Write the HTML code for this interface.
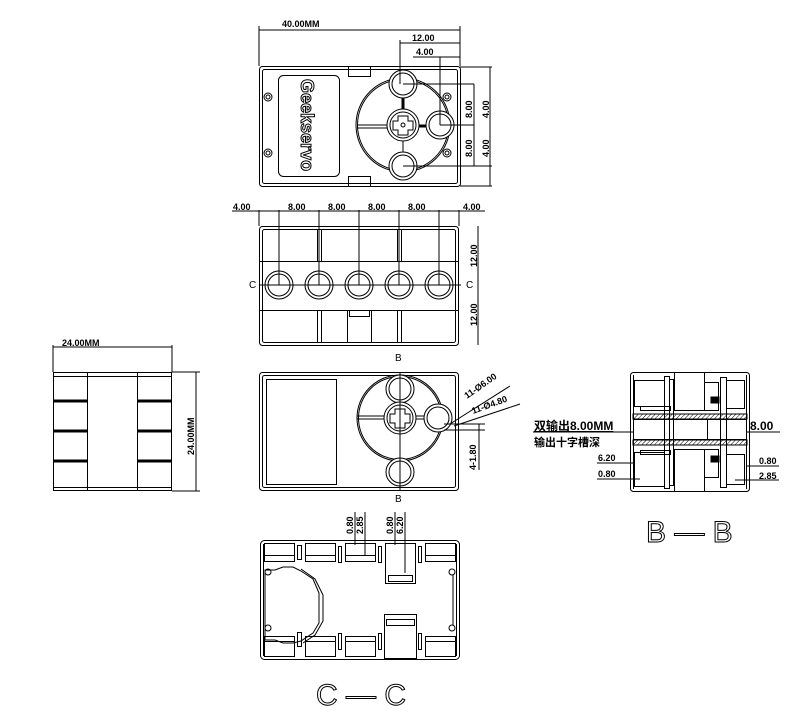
<!DOCTYPE html>
<html><head><meta charset="utf-8"><style>
html,body{margin:0;padding:0;background:#fff;width:797px;height:713px;overflow:hidden}
svg{display:block}
text{font-family:"Liberation Sans","Noto Sans CJK SC",sans-serif;fill:#000}
</style></head><body>
<svg width="797" height="713" viewBox="0 0 797 713" xmlns="http://www.w3.org/2000/svg">
<defs>
<pattern id="h" width="3" height="3" patternUnits="userSpaceOnUse" patternTransform="rotate(45)"><line x1="0" y1="0" x2="0" y2="3" stroke="#000" stroke-width="1"/></pattern>
</defs>
<g fill="none" stroke="#000" stroke-width="1">
<!-- TOP VIEW -->
<rect x="259.5" y="66.5" width="201" height="120" rx="3"/>
<rect x="262.5" y="69.5" width="195" height="114" rx="2"/>
<rect x="278.5" y="75.5" width="61" height="101" rx="5"/>
<rect x="348.5" y="66.5" width="22" height="10"/><rect x="348.5" y="176.5" width="22" height="10"/>
<circle cx="268" cy="97" r="4"/><circle cx="268" cy="97" r="2"/>
<circle cx="268" cy="153" r="4"/><circle cx="268" cy="153" r="2"/>
<circle cx="447" cy="97" r="4"/><circle cx="447" cy="97" r="2"/>
<circle cx="447" cy="153" r="4"/><circle cx="447" cy="153" r="2"/>
<circle cx="403" cy="125" r="47"/><circle cx="403" cy="125" r="45.5"/>
<circle cx="403" cy="84" r="14" fill="#fff"/><circle cx="403" cy="84" r="11"/>
<circle cx="403" cy="166" r="14" fill="#fff"/><circle cx="403" cy="166" r="11"/>
<circle cx="440" cy="125" r="14" fill="#fff"/><circle cx="440" cy="125" r="11"/>
<circle cx="403" cy="125" r="16" fill="#fff"/><circle cx="403" cy="125" r="13"/>
<path d="M398 116h10v5h5v9h-5v5h-10v-5h-5v-9h5z"/>
<circle cx="403" cy="125" r="2"/>
<line x1="357" y1="125" x2="387" y2="125"/><line x1="357" y1="128" x2="387" y2="128"/>
<line x1="419" y1="126" x2="426" y2="126" stroke-width="3"/>
<line x1="403" y1="98" x2="403" y2="109" stroke-width="3"/><line x1="403" y1="141" x2="403" y2="152"/>
<!-- top dims -->
<line x1="259" y1="30" x2="460" y2="30"/><line x1="259" y1="26" x2="259" y2="66"/><line x1="460" y1="26" x2="460" y2="66"/>
<line x1="400" y1="43" x2="460" y2="43"/><line x1="400" y1="40" x2="400" y2="84"/>
<line x1="413" y1="57" x2="460" y2="57"/><line x1="440" y1="57" x2="440" y2="125"/>
<line x1="403" y1="84" x2="474" y2="84"/><line x1="440" y1="125" x2="474" y2="125"/><line x1="403" y1="166" x2="492" y2="166"/>
<line x1="460" y1="67" x2="492" y2="67"/><line x1="460" y1="186" x2="492" y2="186"/>
<line x1="490" y1="67" x2="490" y2="186"/><line x1="474" y1="84" x2="474" y2="166"/>
<!-- SIDE VIEW -->
<rect x="259.5" y="226.5" width="199" height="119" rx="3"/>
<rect x="262.5" y="229.5" width="193" height="113" rx="2"/>
<line x1="259" y1="261.5" x2="459" y2="261.5"/><line x1="259" y1="310.5" x2="459" y2="310.5"/>
<line x1="317.5" y1="229" x2="317.5" y2="261"/><line x1="321.5" y1="229" x2="321.5" y2="261"/>
<line x1="397.5" y1="229" x2="397.5" y2="261"/><line x1="401.5" y1="229" x2="401.5" y2="261"/>
<line x1="317.5" y1="310" x2="317.5" y2="343"/><line x1="321.5" y1="310" x2="321.5" y2="343"/>
<line x1="397.5" y1="310" x2="397.5" y2="343"/><line x1="401.5" y1="310" x2="401.5" y2="343"/>
<rect x="347.5" y="310.5" width="24" height="32"/><rect x="349.5" y="310.5" width="20" height="6"/>
<line x1="259" y1="285" x2="461" y2="285"/>
<circle cx="279" cy="285" r="14"/><circle cx="279" cy="285" r="11"/>
<circle cx="319" cy="285" r="14"/><circle cx="319" cy="285" r="11"/>
<circle cx="359" cy="285" r="14"/><circle cx="359" cy="285" r="11"/>
<circle cx="399" cy="285" r="14"/><circle cx="399" cy="285" r="11"/>
<circle cx="439" cy="285" r="14"/><circle cx="439" cy="285" r="11"/>
<line x1="279" y1="210" x2="279" y2="285"/><line x1="319" y1="210" x2="319" y2="285"/><line x1="359" y1="210" x2="359" y2="285"/><line x1="399" y1="210" x2="399" y2="285"/><line x1="439" y1="210" x2="439" y2="285"/>
<line x1="259" y1="210" x2="259" y2="226"/><line x1="459" y1="210" x2="459" y2="226"/>
<line x1="232" y1="211" x2="485" y2="211"/>
<line x1="478" y1="226" x2="478" y2="345"/>
<!-- FRONT VIEW -->
<rect x="259.5" y="372.5" width="199" height="118" rx="3"/>
<rect x="262.5" y="375.5" width="193" height="112" rx="2"/>
<rect x="266.5" y="379.5" width="70" height="105"/>
<circle cx="400" cy="418" r="43"/><circle cx="400" cy="418" r="41.5"/>
<circle cx="400" cy="389" r="14" fill="#fff"/><circle cx="400" cy="389" r="11"/>
<circle cx="400" cy="472" r="14" fill="#fff"/><circle cx="400" cy="472" r="11"/>
<circle cx="438" cy="418" r="14" fill="#fff"/><circle cx="438" cy="418" r="11"/>
<circle cx="400" cy="418" r="16" fill="#fff"/><circle cx="400" cy="418" r="13"/>
<path d="M395 409h10v5h5v9h-5v5h-10v-5h-5v-9h5z"/>
<line x1="400" y1="372" x2="400" y2="490"/>
<line x1="357" y1="416" x2="384" y2="416"/><line x1="357" y1="419" x2="384" y2="419"/>
<line x1="416" y1="416" x2="424" y2="416"/><line x1="416" y1="419" x2="424" y2="419"/>
<line x1="450" y1="424" x2="510" y2="386"/><line x1="454" y1="426" x2="520" y2="404"/>
<line x1="444" y1="424" x2="485" y2="424"/><line x1="444" y1="430" x2="485" y2="430"/><line x1="479" y1="424" x2="479" y2="470"/>
<!-- LEFT VIEW -->
<rect x="53.5" y="372.5" width="118" height="118"/>
<line x1="87.5" y1="372" x2="87.5" y2="491"/><line x1="137.5" y1="372" x2="137.5" y2="491"/>
<line x1="53" y1="376.5" x2="172" y2="376.5"/><line x1="53" y1="487.5" x2="172" y2="487.5"/>
<line x1="53" y1="401" x2="87" y2="401" stroke-width="3"/><line x1="138" y1="401" x2="172" y2="401" stroke-width="3"/>
<line x1="53" y1="431" x2="87" y2="431" stroke-width="3"/><line x1="138" y1="431" x2="172" y2="431" stroke-width="3"/>
<line x1="53" y1="461" x2="87" y2="461" stroke-width="3"/><line x1="138" y1="461" x2="172" y2="461" stroke-width="3"/>
<line x1="53" y1="347" x2="172" y2="347"/><line x1="53" y1="345" x2="53" y2="372"/><line x1="172" y1="345" x2="172" y2="372"/>
<line x1="172" y1="372" x2="200" y2="372"/><line x1="172" y1="491" x2="200" y2="491"/><line x1="196" y1="372" x2="196" y2="491"/>
<!-- B-B -->
<rect x="630.5" y="372.5" width="119" height="119" rx="3"/>
<line x1="633.5" y1="375" x2="633.5" y2="489"/><line x1="746.5" y1="375" x2="746.5" y2="489"/>
<rect x="634.5" y="380.5" width="30" height="26"/><rect x="634.5" y="452.5" width="30" height="34"/>
<rect x="664.5" y="376.5" width="5" height="112"/><rect x="669.5" y="379.5" width="4" height="106"/>
<rect x="674.5" y="372.5" width="30" height="38"/><rect x="674.5" y="449.5" width="30" height="42"/>
<rect x="704.5" y="382.5" width="14" height="28"/><rect x="704.5" y="449.5" width="14" height="28"/>
<rect x="720.5" y="377.5" width="6" height="110"/><rect x="726.5" y="380.5" width="18" height="28"/><rect x="726.5" y="454.5" width="18" height="30"/>
<rect x="640.5" y="406.5" width="30" height="4"/><rect x="640.5" y="450.5" width="30" height="4"/>
<rect x="633" y="414" width="114" height="5" fill="url(#h)"/><rect x="633" y="440" width="114" height="5" fill="url(#h)"/>
<line x1="633" y1="419.5" x2="747" y2="419.5"/><line x1="633" y1="439.5" x2="747" y2="439.5"/>
<line x1="673.5" y1="419" x2="673.5" y2="440"/><line x1="707.5" y1="419" x2="707.5" y2="440"/>
<rect x="711" y="397" width="8" height="6" fill="#000"/><rect x="711" y="456" width="8" height="6" fill="#000"/>
<line x1="533" y1="432" x2="633" y2="432"/><line x1="747" y1="432" x2="780" y2="432"/>
<line x1="597" y1="463" x2="633" y2="463"/><line x1="597" y1="479" x2="640" y2="479"/>
<line x1="747" y1="466" x2="779" y2="466"/><line x1="735" y1="480" x2="779" y2="480"/>
<!-- C-C -->
<rect x="260.5" y="540.5" width="199" height="119" rx="4"/>
<line x1="263.5" y1="544" x2="263.5" y2="656"/><line x1="456.5" y1="544" x2="456.5" y2="656"/>
<rect x="264.5" y="543.5" width="30" height="12"/><rect x="264.5" y="555.5" width="30" height="6"/>
<rect x="305.5" y="543.5" width="30" height="12"/><rect x="305.5" y="555.5" width="30" height="6"/>
<rect x="345.5" y="543.5" width="30" height="12"/><rect x="345.5" y="555.5" width="30" height="6"/>
<rect x="385.5" y="543.5" width="30" height="40"/><rect x="388.5" y="575.5" width="24" height="6"/>
<rect x="425.5" y="543.5" width="30" height="12"/><rect x="425.5" y="555.5" width="30" height="6"/>
<rect x="264.5" y="636.5" width="30" height="20"/><rect x="264.5" y="636.5" width="30" height="5"/>
<rect x="305.5" y="636.5" width="30" height="20"/><rect x="305.5" y="636.5" width="30" height="5"/>
<rect x="345.5" y="636.5" width="30" height="20"/><rect x="345.5" y="636.5" width="30" height="5"/>
<rect x="384.5" y="614.5" width="32" height="44"/><rect x="386.5" y="619.5" width="28" height="6"/>
<rect x="425.5" y="636.5" width="30" height="20"/><rect x="425.5" y="636.5" width="30" height="5"/>
<rect x="297.5" y="545.5" width="4" height="14"/><rect x="297.5" y="632.5" width="4" height="14"/>
<rect x="338.5" y="546.5" width="3" height="16"/><rect x="338.5" y="633.5" width="3" height="16"/>
<rect x="378.5" y="546.5" width="3" height="16"/><rect x="378.5" y="633.5" width="3" height="16"/>
<rect x="418.5" y="546.5" width="3" height="16"/><rect x="418.5" y="633.5" width="3" height="16"/>
<path d="M265 570h10l8-3h10l8 4 12 8 6 14v30l-6 10-12 8-8 2h-10l-8-3h-10z"/>
<path d="M301 569l14 10 8 16v26l-8 14-12 8"/>
<circle cx="268" cy="572" r="3"/><circle cx="268" cy="628" r="3"/><circle cx="452" cy="572" r="3"/><circle cx="452" cy="628" r="3"/>
<line x1="453" y1="575" x2="453" y2="625"/>
<line x1="355" y1="512" x2="355" y2="545"/><line x1="365" y1="512" x2="365" y2="555"/>
<line x1="395" y1="512" x2="395" y2="545"/><line x1="405" y1="512" x2="405" y2="573"/>
</g>
<!-- labels -->
<g font-size="9" font-weight="bold">
<text x="282" y="27">40.00MM</text>
<text x="412" y="41">12.00</text>
<text x="416" y="55">4.00</text>
<text transform="translate(472,118) rotate(-90)">8.00</text>
<text transform="translate(489,118) rotate(-90)">4.00</text>
<text transform="translate(472,157) rotate(-90)">8.00</text>
<text transform="translate(489,157) rotate(-90)">4.00</text>
<text x="233" y="210">4.00</text><text x="288" y="210">8.00</text><text x="328" y="210">8.00</text><text x="368" y="210">8.00</text><text x="408" y="210">8.00</text><text x="463" y="210">4.00</text>
<text transform="translate(477,267) rotate(-90)">12.00</text>
<text transform="translate(477,326) rotate(-90)">12.00</text>
<text transform="translate(476,470) rotate(-90)">4-1.80</text>
<text transform="translate(467,399) rotate(-35)">11-Ø6.00</text>
<text transform="translate(473,414) rotate(-20)">11-Ø4.80</text>
<text x="62" y="346">24.00MM</text>
<text transform="translate(194,455) rotate(-90)">24.00MM</text>
<text x="598" y="461">6.20</text><text x="598" y="477">0.80</text>
<text x="759" y="464">0.80</text><text x="759" y="479">2.85</text>
<text transform="translate(353,534) rotate(-90)">0.80</text><text transform="translate(363,534) rotate(-90)">2.85</text>
<text transform="translate(393,534) rotate(-90)">0.80</text><text transform="translate(403,534) rotate(-90)">6.20</text>
</g>
<text x="249" y="288" font-size="10">C</text><text x="466" y="288" font-size="10">C</text>
<text x="395" y="361" font-size="10">B</text><text x="395" y="502" font-size="10">B</text>
<text x="534" y="430" font-size="12" font-weight="bold" text-decoration="underline">双输出8.00MM</text>
<text x="534" y="446" font-size="11" font-weight="bold">输出十字槽深</text>
<text x="750" y="430" font-size="12" font-weight="bold">8.00</text>
<text transform="translate(301,79) rotate(90)" font-size="18" font-weight="bold" fill="#fff" stroke="#000" stroke-width="1" style="fill:#fff">Geekservo</text>
<text x="646" y="542" font-size="30" font-weight="normal" fill="#fff" stroke="#000" stroke-width="1" style="fill:#fff">B — B</text>
<text x="316" y="705" font-size="30" fill="#fff" stroke="#000" stroke-width="1" style="fill:#fff">C — C</text>
</svg>
</body></html>
